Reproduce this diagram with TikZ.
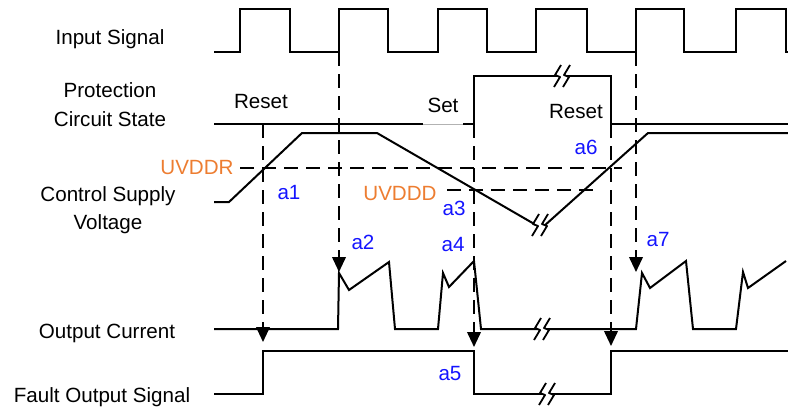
\documentclass[tikz,border=0pt]{standalone}
\usepackage{fontspec}
\setmainfont{Liberation Sans}
\usetikzlibrary{arrows.meta}
\definecolor{uvorange}{RGB}{237,125,49}
\definecolor{lblblue}{RGB}{20,20,255}
\newcommand\brkmark[2]{\begin{scope}[shift={(#1,#2)}]
 \fill[white] (0,-11) -- (-6,-1) -- (-1,1) -- (-7,11) -- (0,11) -- (6,1) -- (1,-1) -- (7,-11) -- cycle;
 \draw[line width=0.9pt, line join=round] (-1,-11) -- (-7,-1) -- (-2,1) -- (-8,11);
 \draw[line width=0.9pt, line join=round] (8,-11) -- (2,-1) -- (7,1) -- (1,11);
\end{scope}}
\begin{document}
\begin{tikzpicture}[x=0.5pt,y=-0.5pt,
  sig/.style={line width=1pt, line join=miter},
  dsh/.style={line width=1pt, dash pattern=on 7pt off 4pt},
  arr/.style={dsh, -{Triangle[width=6.8pt,length=7.5pt]}},
  lbl/.style={font=\fontsize{10.3}{12.4}\selectfont, text=black, inner sep=0pt, anchor=base},
  olbl/.style={lbl, text=uvorange},
  blbl/.style={lbl, text=lblblue}]
\useasboundingbox (0,0) rectangle (788,408);
% labels
\node[lbl] (inLbl) at (110,44.5) {Input Signal};
\node[lbl] (pcs1) at (110,97.5) {Protection};
\node[lbl] (pcs2) at (110,126.5) {Circuit State};
\node[lbl] (csv1) at (108,201.5) {Control Supply};
\node[lbl] (csv2) at (108,229.5) {Voltage};
\node[lbl] (oc) at (107,338) {Output Current};
\node[lbl] (fo) at (102,402) {Fault Output Signal};
\node[lbl] (rs1) at (261,108.5) {Reset};
\node[lbl] (setl) at (443,112.5) {Set};
\node[lbl] (rs2) at (576,118.5) {Reset};
\node[olbl] (uvr) at (197,174) {UVDDR};
\node[olbl] (uvd) at (400,200) {UVDDD};
\node[blbl] (a1) at (289,199.5) {a1};
\node[blbl] (a2) at (363,249.5) {a2};
\node[blbl] (a3) at (454,215.5) {a3};
\node[blbl] (a4) at (453,251.5) {a4};
\node[blbl] (a5) at (450,380.5) {a5};
\node[blbl] (a6) at (586,154.5) {a6};
\node[blbl] (a7) at (658,246.5) {a7};
% key coordinates
\coordinate (d1s) at (263,124); \coordinate (d1e) at (263,342);
\coordinate (d2s) at (339,52);  \coordinate (d2e) at (339,272);
\coordinate (d3s) at (474,124); \coordinate (d3e) at (474,347);
\coordinate (d4s) at (611,124); \coordinate (d4e) at (611,346);
\coordinate (d5s) at (636,52);  \coordinate (d5e) at (636,272);
\coordinate (uvrs) at (240,168); \coordinate (uvre) at (622,168);
\coordinate (uvds) at (447,190); \coordinate (uvde) at (598,190);
% threshold lines
\draw[dsh] (uvrs) -- (uvre);
\draw[dsh] (uvds) -- (uvde);
% input signal
\draw[sig] (214,52) -- (240,52) -- (240,9) -- (290,9) -- (290,52) -- (339,52) -- (339,9) -- (388,9) -- (388,52) -- (438,52) -- (438,9) -- (487,9) -- (487,52) -- (536,52) -- (536,9) -- (587,9) -- (587,52) -- (636,52) -- (636,9) -- (684,9) -- (684,52) -- (736,52) -- (736,9) -- (786,9) -- (786,52) -- (788,52);
% protection circuit state
\draw[sig] (214,124) -- (423,124);
\draw[gray!60, line width=0.4pt] (423,124) -- (463,124);
\draw[sig] (463,124) -- (474,124) -- (474,76) -- (611,76) -- (611,124) -- (788,124);
\brkmark{562}{76}
% control supply voltage
\draw[sig] (214,202) -- (229,202) -- (302,133) -- (377,133) -- (536,225);
\draw[sig] (544,226) -- (648,133) -- (788,133);
\brkmark{540}{225}
% output current
\draw[sig] (214,329) -- (338,329) -- (339,273) -- (349,290) -- (389,262) -- (395,329) -- (438,329) -- (443,273) -- (449,287) -- (474,261) -- (481,329) -- (636,329) -- (642,273) -- (650,288) -- (686,261) -- (693,329) -- (736,329) -- (743,272) -- (748,288) -- (786,261);
\brkmark{542}{329}
% fault output signal
\draw[sig] (214,394) -- (263,394) -- (263,351) -- (474,351) -- (474,394) -- (611,394) -- (611,351) -- (788,351);
\brkmark{547}{394}
% dashed arrows
\draw[arr] (d1s) -- (d1e);
\draw[arr] (d2s) -- (d2e);
\draw[arr] (d3s) -- (d3e);
\draw[arr] (d4s) -- (d4e);
\draw[arr] (d5s) -- (d5e);
\end{tikzpicture}
\end{document}
